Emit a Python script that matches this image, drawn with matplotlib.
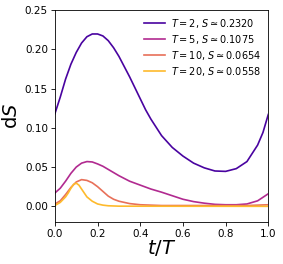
import numpy as np
import matplotlib
matplotlib.use('Agg')
import matplotlib.pyplot as plt

# dS against t/T (one grid per curve)
t_T2 = [0.0, 0.025, 0.05, 0.075, 0.1, 0.125, 0.15, 0.175, 0.2, 0.225, 0.25, 0.275,
        0.3, 0.325, 0.35, 0.375, 0.4, 0.425, 0.45, 0.5, 0.55, 0.6, 0.65, 0.7, 0.75,
        0.8, 0.85, 0.9, 0.95, 0.975, 1.0]
ds_T2 = [0.118, 0.139, 0.162, 0.181, 0.196, 0.208, 0.216, 0.2195, 0.2195, 0.217,
         0.211, 0.202, 0.191, 0.178, 0.165, 0.151, 0.137, 0.123, 0.111, 0.090, 0.075,
         0.064, 0.055, 0.049, 0.045, 0.0445, 0.048, 0.057, 0.078, 0.094, 0.117]

t_T5 = [0.0, 0.025, 0.05, 0.075, 0.1, 0.125, 0.15, 0.175, 0.2, 0.225, 0.25, 0.3,
        0.35, 0.4, 0.45, 0.5, 0.55, 0.6, 0.65, 0.7, 0.75, 0.8, 0.85, 0.9, 0.95, 1.0]
ds_T5 = [0.017, 0.023, 0.032, 0.042, 0.050, 0.055, 0.057, 0.0565, 0.054, 0.051,
         0.047, 0.039, 0.032, 0.027, 0.022, 0.018, 0.0135, 0.009, 0.006, 0.004,
         0.0025, 0.002, 0.002, 0.003, 0.007, 0.016]

t_T10 = [0.0, 0.025, 0.05, 0.075, 0.1, 0.125, 0.15, 0.175, 0.2, 0.225, 0.25, 0.275,
         0.3, 0.35, 0.4, 0.5, 0.9, 1.0]
ds_T10 = [0.003, 0.007, 0.015, 0.024, 0.031, 0.034, 0.033, 0.030, 0.025, 0.019,
          0.013, 0.009, 0.0065, 0.0035, 0.002, 0.001, 0.001, 0.002]

t_T20 = [0.0, 0.025, 0.05, 0.0625, 0.075, 0.0875, 0.1, 0.1125, 0.125, 0.1375, 0.15,
         0.175, 0.2, 0.225, 0.25, 0.3, 1.0]
ds_T20 = [0.001, 0.005, 0.012, 0.017, 0.023, 0.028, 0.0295, 0.027, 0.022, 0.017,
          0.012, 0.0065, 0.003, 0.0015, 0.0007, 0.0002, 0.0]

periods = [2, 5, 10, 20]
totals = ['0.2320', '0.1075', '0.0654', '0.0558']
curves = [(t_T2, ds_T2), (t_T5, ds_T5), (t_T10, ds_T10), (t_T20, ds_T20)]

cmap = plt.get_cmap('plasma')
colors = [cmap(0.12), cmap(0.40), cmap(0.64), cmap(0.85)]

fig = plt.figure(figsize=(2.83, 2.64), dpi=100)
ax = fig.add_axes([0.194, 0.159, 0.754, 0.803])

for T, s, (tt, ds), c in zip(periods, totals, curves, colors):
    ax.plot(tt, ds, color=c, lw=1.2, label=r'$T = %d$, $S \simeq %s$' % (T, s))

ax.set_xlim(0, 1)
ax.set_ylim(-0.02, 0.25)
ax.set_xticks([0.0, 0.2, 0.4, 0.6, 0.8, 1.0])
ax.set_yticks([0.0, 0.05, 0.10, 0.15, 0.20, 0.25])
ax.set_yticklabels(['0.00', '0.05', '0.10', '0.15', '0.20', '0.25'])
ax.tick_params(labelsize=7.5, length=3, width=0.6, pad=2)
for sp in ax.spines.values():
    sp.set_linewidth(0.6)

ax.set_xlabel(r'$t/T$', fontsize=14, labelpad=-1)
ax.set_ylabel(r'd$S$', fontsize=14, labelpad=3)

ax.legend(loc='upper right', frameon=False, fontsize=7, handlelength=2.2,
          labelspacing=0.3, borderaxespad=0.3, handletextpad=0.6)

plt.savefig('out.png', dpi=100)
